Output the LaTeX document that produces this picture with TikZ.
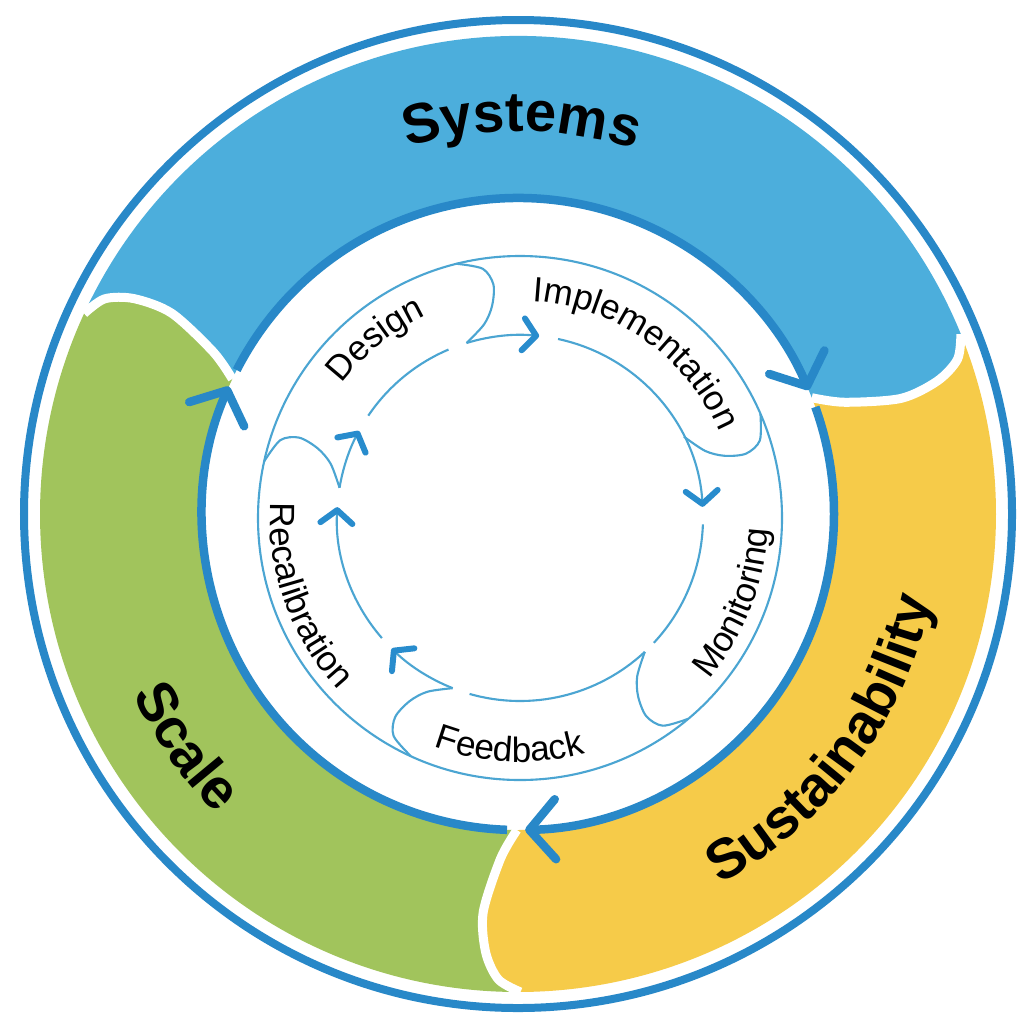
\documentclass[tikz,border=0pt]{standalone}
\usepackage{fontspec}
\setmainfont{Liberation Sans}
\usetikzlibrary{arrows.meta, decorations.text}
\definecolor{ringblue}{RGB}{40,136,200}
\definecolor{bandblue}{RGB}{76,174,220}
\definecolor{bandgreen}{RGB}{161,196,92}
\definecolor{bandyellow}{RGB}{246,203,73}
\definecolor{cycleblue}{RGB}{75,165,210}
\definecolor{tipblue}{RGB}{40,140,205}
\newcommand\themefont{\bfseries\fontsize{16pt}{16pt}\selectfont}
\newcommand\stagefont{\fontsize{10pt}{10pt}\selectfont}
% head of a band, from outer edge to inner edge, and back
\newcommand\bandcap[1]{-- plot[smooth] coordinates {({#1+0.5}:4.78) ({#1-2.2}:4.66) ({#1-4}:4.40) ({#1-4.8}:4.00) ({#1-2.7}:3.45) ({#1}:3.16)}}
\newcommand\bandcapback[1]{-- plot[smooth] coordinates {({#1}:3.16) ({#1-2.7}:3.45) ({#1-4.8}:4.00) ({#1-4}:4.40) ({#1-2.2}:4.66) ({#1+0.5}:4.78)}}
\tikzset{
    ringline/.style={draw=ringblue, line width=0.08cm},
    capline/.style={draw=white, line width=0.09cm},
    bigarrow/.style={draw=ringblue, line width=0.085cm, -{Straight Barb[length=0.26cm, width=0.6cm, round]}},
    cycleline/.style={draw=cycleblue, line width=0.6pt},
    cyclearrow/.style={cycleline, -{Straight Barb[length=0.13cm, width=0.32cm, line width=1.7pt, round, color=tipblue]}},
    themelabel/.style={decorate, decoration={text along path, text align=center, text={|\themefont|#1}}},
    stagelabel/.style={decorate, decoration={text along path, text align=center, text={|\stagefont|#1}}},
}

\begin{document}
\begin{tikzpicture}
    \fill[white] (0,0) rectangle (10.23,-10.16);
    \useasboundingbox (0,0) rectangle (10.23,-10.16);

    % outer ring and the three bands
    \begin{scope}[shift={(5.18,-5.14)}]
        \draw[ringline] (0,0) circle[radius=4.94];

        \fill[bandblue] (155.2:4.78) arc[start angle=155.2, end angle=22.1, radius=4.78]
            \bandcap{21.6} arc[start angle=21.6, end angle=154.7, radius=3.16]
            \bandcapback{154.7} -- cycle;
        \fill[bandyellow] (22.1:4.78) arc[start angle=22.1, end angle=-89.7, radius=4.78]
            \bandcap{-90.2} arc[start angle=-90.2, end angle=21.6, radius=3.16]
            \bandcapback{21.6} -- cycle;
        \fill[bandgreen] (-89.7:4.78) arc[start angle=-89.7, end angle=-204.8, radius=4.78]
            \bandcap{-205.3} arc[start angle=-205.3, end angle=-90.2, radius=3.16]
            \bandcapback{-90.2} -- cycle;

        \foreach \b in {21.6, -90.2, 154.7}
            \path[capline] ({\b+0.5}:4.78) \bandcap{\b};

        % thick circle with arrows
        \draw[bigarrow] (152.9:3.16) arc[start angle=152.9, end angle=23.1, radius=3.16];
        \draw[bigarrow] (19.8:3.16) arc[start angle=19.8, end angle=-88.7, radius=3.16];
        \draw[bigarrow] (-92:3.16) arc[start angle=-92, end angle=-203.8, radius=3.16];

        \path[themelabel=Systems] (129.5:3.83) arc[start angle=129.5, end angle=49.5, radius=3.83];
        \path[themelabel=Sustainability] (-76.5:4.22) arc[start angle=-76.5, end angle=3.5, radius=4.22];
        \path[themelabel=Scale] (175:4.25) arc[start angle=175, end angle=255, radius=4.25];
    \end{scope}

    % inner cycle
    \begin{scope}[shift={(5.20,-5.18)}]
        \draw[cycleline] (0,0) circle[radius=2.62];
        \foreach \s/\e in {146/113, -2/-43, -47/-106}
            \draw[cycleline] (\s:1.83) arc[start angle=\s, end angle=\e, radius=1.83];
        \foreach \s/\e in {107/84, 78/3.5, -111.6/-134.5, -139/-183.4, 170.5/151.6}
            \draw[cyclearrow] (\s:1.83) arc[start angle=\s, end angle=\e, radius=1.83];
        \foreach \c in {107, 26.4, -47, -111.6, 170.5}
            \draw[cycleline] plot[smooth] coordinates {(\c:1.83) ({\c-6.5}:1.97) ({\c-9.5}:2.14) ({\c-10.5}:2.35) ({\c-8.5}:2.52) ({\c-3}:2.62)};

        \path[stagelabel=Design] (169:2.23) arc[start angle=169, end angle=89, radius=2.23];
        \path[stagelabel=Implementation] (105:2.17) arc[start angle=105, end angle=5, radius=2.17];
        \path[stagelabel=Monitoring] (-61.5:2.48) arc[start angle=-61.5, end angle=18.5, radius=2.48];
        \path[stagelabel=Feedback] (-132.6:2.44) arc[start angle=-132.6, end angle=-52.6, radius=2.44];
        \path[stagelabel=Recalibration] (155:2.50) arc[start angle=155, end angle=245, radius=2.50];
    \end{scope}
\end{tikzpicture}
\end{document}
